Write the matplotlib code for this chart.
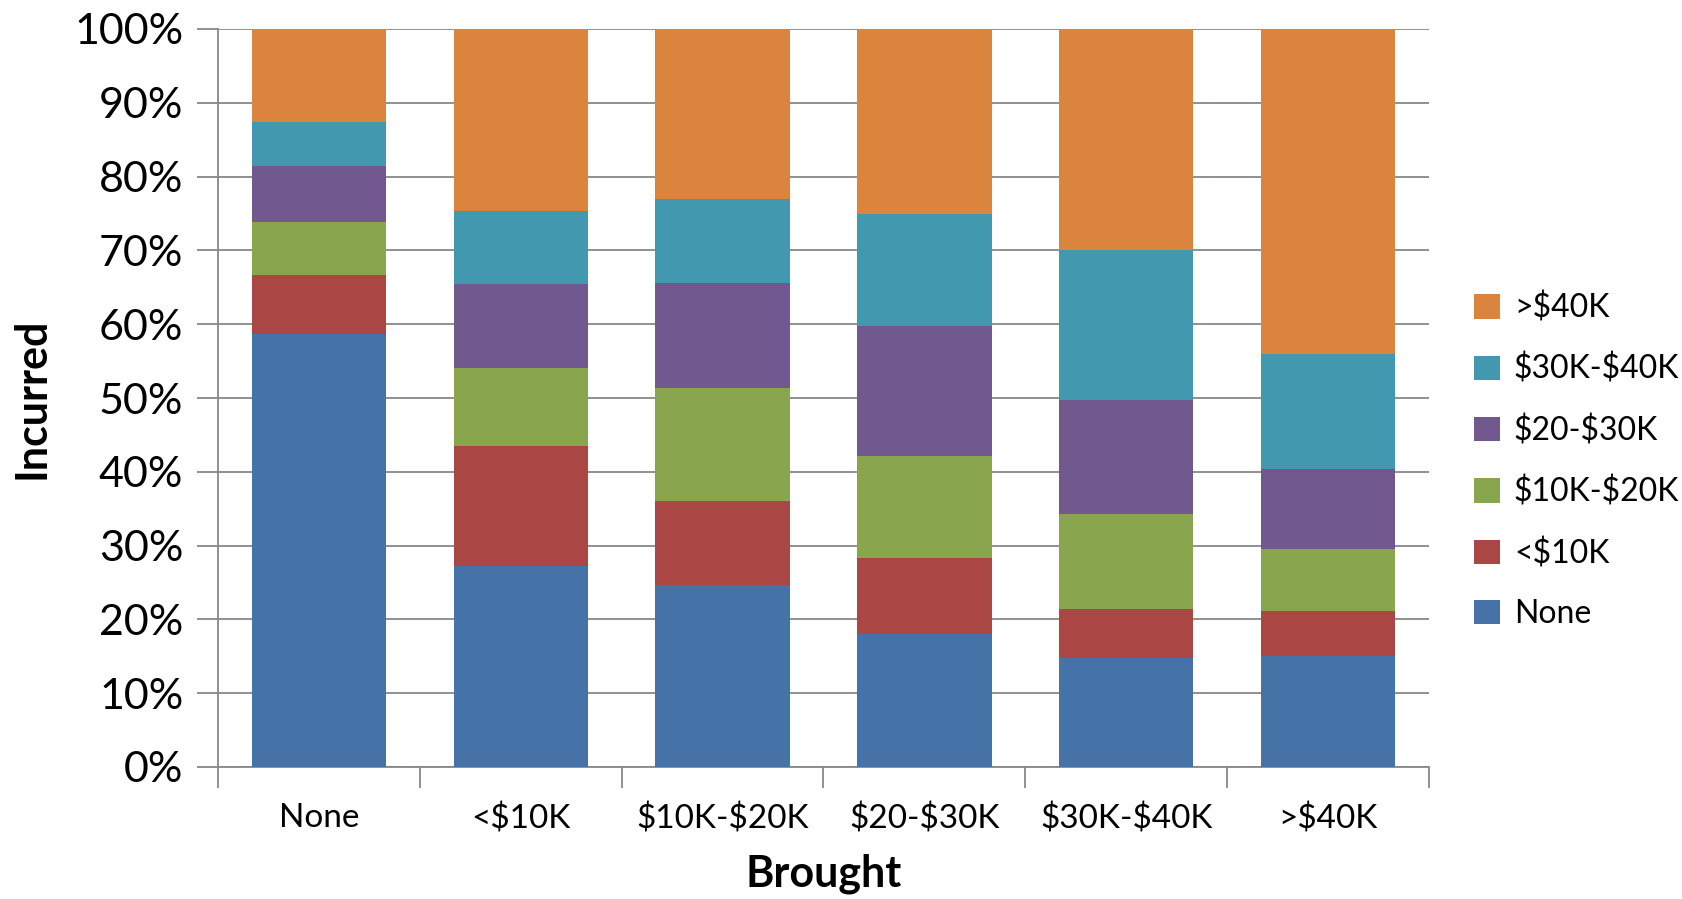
import matplotlib
matplotlib.use("Agg")
import matplotlib.pyplot as plt
import numpy as np

categories = ["None", "<$10K", "$10K-$20K", "$20-$30K", "$30K-$40K", ">$40K"]
series_names = ["None", "<$10K", "$10K-$20K", "$20-$30K", "$30K-$40K", ">$40K"]
# cumulative tops (%), per series, per category
top_none = [58.7, 27.3, 24.7, 18.0, 14.8, 15.0]
top_lt10 = [66.6, 43.5, 36.0, 28.3, 21.4, 21.2]
top_10_20 = [73.8, 54.1, 51.3, 42.2, 34.3, 29.5]
top_20_30 = [81.4, 65.4, 65.6, 59.7, 49.7, 40.4]
top_30_40 = [87.4, 75.3, 76.9, 75.0, 70.1, 56.0]
top_gt40 = [100, 100, 100, 100, 100, 100]

colors = ["#4572A7", "#AA4643", "#89A54E", "#71588F", "#4198AF", "#DB843D"]

plt.rcParams['font.family'] = ['Lato', 'DejaVu Sans']
plt.rcParams['text.parse_math'] = False

tops = np.array([top_none, top_lt10, top_10_20, top_20_30, top_30_40, top_gt40])
heights = np.diff(np.vstack([np.zeros(len(categories)), tops]), axis=0)

fig = plt.figure(figsize=(16.82, 8.99), dpi=100)
ax = fig.add_axes([218/1682, 1 - 767/899, (1429-218)/1682, (767-29)/899])

x = np.arange(len(categories))
bottom = np.zeros(len(categories))
handles = []
for i, name in enumerate(series_names):
    h = ax.bar(x, heights[i], bottom=bottom, width=0.665, color=colors[i],
               label=name, zorder=3, linewidth=0)
    handles.append(h)
    bottom = bottom + heights[i]

ax.set_xlim(-0.5, len(categories) - 0.5)
ax.set_ylim(0, 100)
ax.set_yticks(np.arange(0, 101, 10))
ax.set_yticklabels([f"{v}%" for v in range(0, 101, 10)], fontsize=31)
ax.yaxis.grid(True, color="#888888", linewidth=1.3, zorder=0)
ax.set_axisbelow(True)

ax.set_xticks(x)
ax.set_xticklabels(categories, fontsize=24)
ax.set_xticks(np.arange(-0.5, len(categories), 1), minor=True)
ax.tick_params(axis='x', which='major', length=0, pad=26)
ax.tick_params(axis='x', which='minor', length=15, width=1.3, color="#888888", direction='out')
ax.tick_params(axis='y', length=15, width=1.3, color="#888888", direction='out', pad=10)

for s in ["top", "right"]:
    ax.spines[s].set_visible(False)
for s in ["left", "bottom"]:
    ax.spines[s].set_color("#888888")
    ax.spines[s].set_linewidth(1.3)

ax.set_xlabel("Brought", fontsize=31, fontweight='bold', labelpad=14)
ax.set_ylabel("Incurred", fontsize=31, fontweight='bold', labelpad=16)

leg = fig.legend(handles[::-1], series_names[::-1], loc='center left',
                 bbox_to_anchor=(1474/1682, 1 - 461/899), frameon=False,
                 borderaxespad=0, borderpad=0,
                 fontsize=23, handlelength=0.8, handleheight=0.8,
                 handletextpad=0.45, labelspacing=0.95)

fig.savefig("out.png", dpi=100)
